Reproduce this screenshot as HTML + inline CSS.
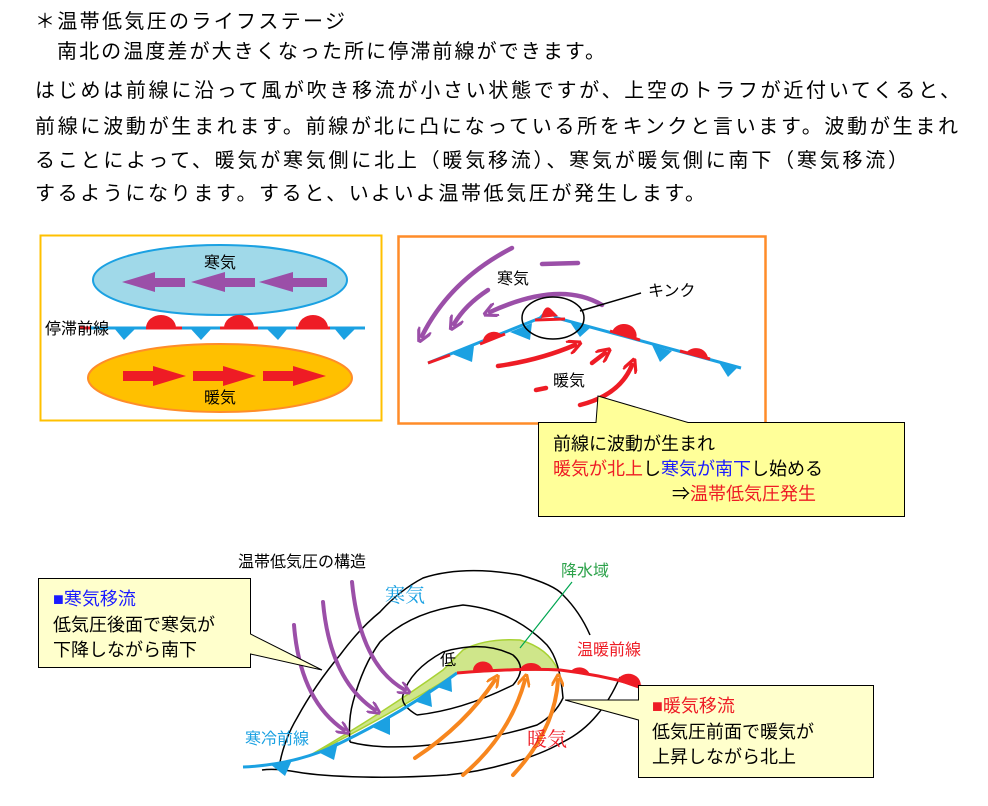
<!DOCTYPE html>
<html><head><meta charset="utf-8"><style>
html,body{margin:0;padding:0;background:#fff;}
svg{display:block;font-family:"Liberation Sans","Noto Sans CJK JP",sans-serif;}
</style></head><body>
<svg width="988" height="806" viewBox="0 0 988 806" xmlns="http://www.w3.org/2000/svg">
<defs>
<marker id="pa" viewBox="0 0 10 10" refX="5" refY="5" markerWidth="3.2" markerHeight="3.2" orient="auto"><path d="M0,0 L10,5 L0,10" fill="none" stroke="#9b4fa8" stroke-width="2.2"/></marker>
<marker id="ra" viewBox="0 0 10 10" refX="5" refY="5" markerWidth="3.2" markerHeight="3.2" orient="auto"><path d="M0,0 L10,5 L0,10" fill="none" stroke="#ee1c25" stroke-width="2.2"/></marker>
<marker id="oa" viewBox="0 0 10 10" refX="5" refY="5" markerWidth="3.2" markerHeight="3.2" orient="auto"><path d="M0,0 L10,5 L0,10" fill="none" stroke="#f7861e" stroke-width="2.2"/></marker>
</defs>
<g font-size="20" fill="#000">
<text x="35" y="28" textLength="310" lengthAdjust="spacing">＊温帯低気圧のライフステージ</text>
<text x="57" y="58" textLength="548" lengthAdjust="spacing">南北の温度差が大きくなった所に停滞前線ができます。</text>
<text x="35" y="97" textLength="925" lengthAdjust="spacing">はじめは前線に沿って風が吹き移流が小さい状態ですが、上空のトラフが近付いてくると、</text>
<text x="35" y="133" textLength="923" lengthAdjust="spacing">前線に波動が生まれます。前線が北に凸になっている所をキンクと言います。波動が生まれ</text>
<text x="35" y="167" textLength="873" lengthAdjust="spacing">ることによって、暖気が寒気側に北上（暖気移流）、寒気が暖気側に南下（寒気移流）</text>
<text x="35" y="200" textLength="670" lengthAdjust="spacing">するようになります。すると、いよいよ温帯低気圧が発生します。</text>
</g>

<!-- Diagram 1 -->
<rect x="40.5" y="235.5" width="341" height="185" fill="#fff" stroke="#ffc000" stroke-width="2"/>
<ellipse cx="220" cy="280" rx="127" ry="35" fill="#a0d9e9" stroke="#1ba1e2" stroke-width="2"/>
<text x="220" y="268" font-size="16" text-anchor="middle">寒気</text>
<g fill="#9b4fa8">
<polygon points="185,278 155,278 155,272 122,282 155,292 155,287 185,287"/>
<polygon points="255,278 225,278 225,272 191,282 225,292 225,287 255,287"/>
<polygon points="327,278 293,278 293,272 259,282 293,292 293,287 327,287"/>
</g>
<line x1="80" y1="328" x2="365" y2="328" stroke="#1ba1e2" stroke-width="3"/>
<g fill="#ee1c25">
<line x1="80" y1="328" x2="90" y2="328" stroke="#ee1c25" stroke-width="3"/>
<path d="M146,328 A15,13 0 0 1 176,328 Z"/><line x1="146" y1="328" x2="182" y2="328" stroke="#ee1c25" stroke-width="3"/>
<path d="M224,328 A15,13 0 0 1 254,328 Z"/><line x1="220" y1="328" x2="258" y2="328" stroke="#ee1c25" stroke-width="3"/>
<path d="M298,328 A15,13 0 0 1 328,328 Z"/><line x1="296" y1="328" x2="330" y2="328" stroke="#ee1c25" stroke-width="3"/>
</g>
<g fill="#1ba1e2">
<polygon points="114,328 136,328 124,340"/>
<polygon points="190,328 212,328 201,340"/>
<polygon points="266,328 288,328 278,340"/>
<polygon points="334,328 356,328 344,340"/>
</g>
<text x="45" y="334" font-size="16">停滞前線</text>
<ellipse cx="220" cy="378" rx="132" ry="34" fill="#ffc000" stroke="#ff8c29" stroke-width="2"/>
<g fill="#ee1c25">
<polygon points="123,371 153,371 153,366 186,376 153,386 153,381 123,381"/>
<polygon points="193,371 223,371 223,366 256,376 223,386 223,381 193,381"/>
<polygon points="263,371 293,371 293,366 326,376 293,386 293,381 263,381"/>
</g>
<text x="220" y="403" font-size="16" text-anchor="middle">暖気</text>

<!-- Diagram 2 -->
<rect x="398.5" y="236.5" width="367" height="187" fill="#fff" stroke="#ff8c29" stroke-width="2.5"/>
<g fill="none" stroke="#9b4fa8" stroke-width="4.5" stroke-linecap="round">
<path d="M512,248 Q450,280 422,336" marker-end="url(#pa)"/>
<path d="M488,290 Q465,305 454,324" marker-end="url(#pa)"/>
<path d="M602,305 Q560,280 490,312" marker-end="url(#pa)"/>
<path d="M542,264 L578,263"/>
</g>
<g fill="none" stroke="#ee1c25" stroke-width="4.5" stroke-linecap="round">
<path d="M498,366 Q540,360 575,345" marker-end="url(#ra)"/>
<path d="M592,363 L605,353" marker-end="url(#ra)"/>
<path d="M580,405 Q620,395 632,365" marker-end="url(#ra)"/>
<path d="M536,390 L546,388"/>
</g>
<polyline points="428,363 540,318 548,310 557,318 741,368" fill="none" stroke="#1ba1e2" stroke-width="3"/>
<g stroke="#ee1c25" stroke-width="3">
<line x1="428" y1="363" x2="450" y2="355"/>
<line x1="480" y1="344" x2="505" y2="334"/>
<line x1="535" y1="320" x2="565" y2="319"/>
<line x1="610" y1="331" x2="640" y2="340"/>
<line x1="680" y1="351" x2="710" y2="359"/>
</g>
<g fill="#ee1c25">
<path d="M483,343 A11,10 0 0 1 502,335 Z"/>
<path d="M541,318 Q545,302 552,310 L558,316 Z"/>
<path d="M612,332 A12,11 0 0 1 636,339 Z"/>
<path d="M686,353 A12,11 0 0 1 708,359 Z"/>
</g>
<g fill="#1ba1e2">
<polygon points="452,354 474,346 472,362"/>
<polygon points="510,332 532,323 530,340"/>
<polygon points="570,322 590,328 580,337"/>
<polygon points="652,345 672,351 660,362"/>
<polygon points="718,361 738,367 728,377"/>
</g>
<ellipse cx="553" cy="318" rx="31" ry="21" fill="none" stroke="#000" stroke-width="1.5"/>
<line x1="580" y1="311" x2="641" y2="293" stroke="#000" stroke-width="1.5"/>
<text x="648" y="296" font-size="16">キンク</text>
<text x="497" y="284" font-size="16">寒気</text>
<text x="553" y="386" font-size="16">暖気</text>

<!-- callout 1 -->
<path d="M538.5,422.5 L596,422.5 L598,396 L688,422.5 L904.5,422.5 L904.5,516.5 L538.5,516.5 Z" fill="#ffff99" stroke="#000" stroke-width="1"/>
<g font-size="18">
<text x="553" y="450">前線に波動が生まれ</text>
<text x="553" y="475"><tspan fill="#ee1c25">暖気が北上</tspan>し<tspan fill="#1a1aff">寒気が南下</tspan>し始める</text>
<text x="672" y="500"><tspan fill="#000">⇒</tspan><tspan fill="#ee1c25">温帯低気圧発生</tspan></text>
</g>

<!-- Bottom diagram -->
<text x="238" y="567" font-size="16">温帯低気圧の構造</text>
<path d="M307,757 Q380,715 443,670 L463,650 Q485,638 520,640 Q548,648 558,670 L520,670 L457,673 Q390,715 307,757 Z" fill="#cfe68a" stroke="#a8d234" stroke-width="1.5"/>
<g fill="none" stroke="#000" stroke-width="1.5">
<path d="M417,715 Q400,705 403,695 Q410,670 443,652 Q483,640 513,655 Q528,668 513,685 Q463,710 417,715"/>
<path d="M350,742 Q348,720 353,702 Q363,665 380,642 Q410,612 463,605 Q513,610 547,645 Q560,660 563,698 Q555,715 537,725 Q490,740 430,745 Q380,750 350,742"/>
<path d="M280,762 Q285,738 297,718 Q315,685 340,655 Q360,628 380,612 Q400,590 423,578 Q463,565 520,575 Q555,585 563,595 Q580,612 590,635"/>
<path d="M620,677 Q610,700 597,715 Q583,732 563,742 Q540,755 513,762 Q480,772 447,775 Q400,778 363,777 Q320,776 297,772 Q275,768 262,770"/>
</g>
<path d="M243,767 Q290,765 330,748 Q400,715 457,673" fill="none" stroke="#1ba1e2" stroke-width="3"/>
<g fill="#1ba1e2">
<polygon points="270,764 292,760 285,776"/>
<polygon points="318,752 338,742 334,760"/>
<polygon points="372,727 390,716 390,735"/>
<polygon points="414,701 430,689 432,707"/>
<polygon points="437,687 451,676 452,692"/>
</g>
<path d="M457,673 Q520,668 560,670 Q610,676 653,690" fill="none" stroke="#ee1c25" stroke-width="3"/>
<g fill="#ee1c25">
<path d="M473,671 A10,9 0 0 1 493,670 Z"/>
<path d="M520,669 A12,10 0 0 1 542,669 Z"/>
<path d="M570,672 A11,10 0 0 1 590,675 Z"/>
<path d="M617,681 A12,11 0 0 1 640,689 Z"/>
</g>
<g fill="none" stroke="#9b4fa8" stroke-width="4" stroke-linecap="round">
<path d="M294,625 Q300,700 344,730" marker-end="url(#pa)"/>
<path d="M323,602 Q330,680 375,710" marker-end="url(#pa)"/>
<path d="M352,582 Q360,665 405,690" marker-end="url(#pa)"/>
</g>
<g fill="none" stroke="#f7861e" stroke-width="4" stroke-linecap="round">
<path d="M415,758 Q465,725 495,680" marker-end="url(#oa)"/>
<path d="M463,775 Q510,735 525,680" marker-end="url(#oa)"/>
<path d="M513,775 Q555,730 558,680" marker-end="url(#oa)"/>
</g>
<line x1="520" y1="648" x2="572" y2="582" stroke="#00a651" stroke-width="1.2"/>
<text x="561" y="576" font-size="16" fill="#2ca24a">降水域</text>
<text x="385" y="602" font-size="20" fill="#1ba1e2" font-family="Liberation Serif,Noto Serif CJK SC,serif">寒気</text>
<text x="527" y="746" font-size="20" fill="#ee1c25" font-family="Liberation Serif,Noto Serif CJK SC,serif">暖気</text>
<text x="577" y="655" font-size="16" fill="#ee1c25">温暖前線</text>
<text x="245" y="744" font-size="16" fill="#1ba1e2">寒冷前線</text>
<text x="440" y="665" font-size="16">低</text>

<!-- callout left -->
<path d="M38.5,578.5 L250.5,578.5 L250.5,634 L322,670 L250.5,654 L250.5,667.5 L38.5,667.5 Z" fill="#ffffcc" stroke="#000" stroke-width="1"/>
<g font-size="18">
<text x="53" y="605" fill="#1a1aff">■寒気移流</text>
<text x="53" y="631">低気圧後面で寒気が</text>
<text x="53" y="656">下降しながら南下</text>
</g>
<!-- callout right -->
<path d="M638.5,685.5 L873.5,685.5 L873.5,777.5 L638.5,777.5 L638.5,720 L565,700 L638.5,700 Z" fill="#ffffcc" stroke="#000" stroke-width="1"/>
<g font-size="18">
<text x="652" y="712"><tspan fill="#ee1c25">■暖気移流</tspan></text>
<text x="652" y="738">低気圧前面で暖気が</text>
<text x="652" y="763">上昇しながら北上</text>
</g>
</svg>
</body></html>
